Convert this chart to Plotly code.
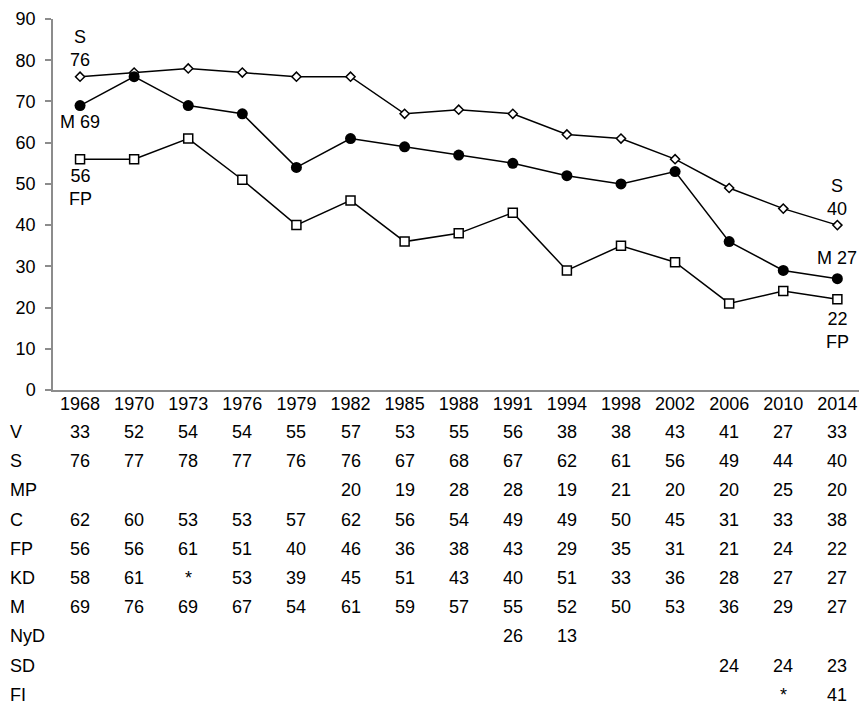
import plotly.graph_objects as go

# election years (category axis)
years = ["1968", "1970", "1973", "1976", "1979", "1982", "1985", "1988",
         "1991", "1994", "1998", "2002", "2006", "2010", "2014"]

# table rows, None = empty cell
V = [33, 52, 54, 54, 55, 57, 53, 55, 56, 38, 38, 43, 41, 27, 33]
S = [76, 77, 78, 77, 76, 76, 67, 68, 67, 62, 61, 56, 49, 44, 40]
MP = [None, None, None, None, None, 20, 19, 28, 28, 19, 21, 20, 20, 25, 20]
C = [62, 60, 53, 53, 57, 62, 56, 54, 49, 49, 50, 45, 31, 33, 38]
FP = [56, 56, 61, 51, 40, 46, 36, 38, 43, 29, 35, 31, 21, 24, 22]
KD = [58, 61, "*", 53, 39, 45, 51, 43, 40, 51, 33, 36, 28, 27, 27]
M = [69, 76, 69, 67, 54, 61, 59, 57, 55, 52, 50, 53, 36, 29, 27]
NyD = [None] * 8 + [26, 13] + [None] * 5
SD = [None] * 12 + [24, 24, 23]
FI = [None] * 13 + ["*", 41]

row_names = ["V", "S", "MP", "C", "FP", "KD", "M", "NyD", "SD", "FI"]
rows = [V, S, MP, C, FP, KD, M, NyD, SD, FI]

FONT = "Liberation Sans, Arial, sans-serif"
AXIS_GREY = "#8c8c8c"

fig = go.Figure()

fig.add_trace(go.Scatter(
    x=years, y=FP, mode="lines+markers", name="FP",
    line=dict(color="black", width=1.5),
    marker=dict(symbol="square", size=9, color="white",
                line=dict(color="black", width=1.5)),
    cliponaxis=False,
))
fig.add_trace(go.Scatter(
    x=years, y=S, mode="lines+markers", name="S",
    line=dict(color="black", width=1.5),
    marker=dict(symbol="diamond", size=7, color="white",
                line=dict(color="black", width=1.5)),
    cliponaxis=False,
))
fig.add_trace(go.Scatter(
    x=years, y=M, mode="lines+markers", name="M",
    line=dict(color="black", width=1.5),
    marker=dict(symbol="circle", size=11, color="black"),
    cliponaxis=False,
))

# series labels at both ends (x given as category index)
last = len(years) - 1
end_labels = [
    (0, S[0], f"S<br>{S[0]}", 28),
    (0, M[0], f"M {M[0]}", -16),
    (0, FP[0], f"{FP[0]}<br>FP", -28),
    (last, S[-1], f"S<br>{S[-1]}", 28),
    (last, M[-1], f"M {M[-1]}", 21),
    (last, FP[-1], f"{FP[-1]}<br>FP", -31),
]
for x, y, txt, shift in end_labels:
    fig.add_annotation(x=x, y=y, text=txt, showarrow=False, yshift=shift,
                       xanchor="center", yanchor="middle")

# data table under the axis
row_top = 42      # px below the x axis for first row centre
row_step = 29.2
for i, (name, vals) in enumerate(zip(row_names, rows)):
    shift = -(row_top + i * row_step)
    fig.add_annotation(xref="paper", yref="paper", x=0, y=0, xshift=-45,
                       yshift=shift, text=name, showarrow=False,
                       xanchor="left", yanchor="middle")
    for j, v in enumerate(vals):
        if v is None:
            continue
        fig.add_annotation(xref="x", yref="paper", x=j, y=0, yshift=shift,
                           text=str(v), showarrow=False,
                           xanchor="center", yanchor="middle")

fig.update_layout(
    width=859, height=709,
    margin=dict(l=53, r=0, t=19, b=319),
    paper_bgcolor="white", plot_bgcolor="white",
    showlegend=False,
    font=dict(family=FONT, size=18, color="black"),
)
fig.update_xaxes(
    type="category", range=[-0.5, 14.4], automargin=False,
    showline=True, linecolor=AXIS_GREY, linewidth=1.5,
    showgrid=False, zeroline=False, ticks="",
    ticklabeloverflow="allow", ticklabelstandoff=-3,
)
fig.update_yaxes(
    range=[0, 90], dtick=10, automargin=False,
    showline=True, linecolor=AXIS_GREY, linewidth=1.5,
    showgrid=False, zeroline=False,
    ticks="outside", ticklen=6, tickcolor=AXIS_GREY, tickwidth=1.5,
    ticklabelstandoff=6,
)

# drop the default body margin so the figure fills the window exactly
fig.write_html(
    "out.html",
    config={"displayModeBar": False},
    post_script="document.body.style.margin='0';"
                "document.body.style.overflow='hidden';",
)
